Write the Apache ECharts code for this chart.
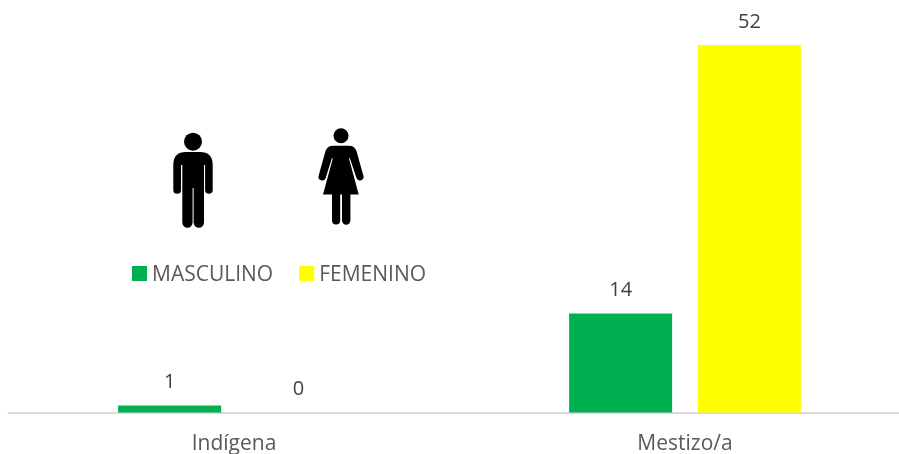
<!DOCTYPE html>
<html>
<head>
<meta charset="utf-8">
<style>
  html, body { margin: 0; padding: 0; background: #fff; }
  #chart { width: 899px; height: 454px; }
</style>
<script src="https://cdn.jsdelivr.net/npm/echarts@6/dist/echarts.min.js"></script>
</head>
<body>
<div id="chart"></div>
<script>
var categories = ["Indígena", "Mestizo/a"];
var masculino = [1, 14];
var femenino = [0, 52];

var manPath = "M173.3 165 Q173.3 152 186 152 L200 152 Q212.7 152 212.7 165 L212.7 190 A3.8 3.8 0 0 1 205.1 190 L205.1 165 L204 165 L204 222.5 A5 5 0 0 1 193.6 222.5 L193.6 188 L192.6 188 L192.6 222.5 A5 5 0 0 1 182.3 222.5 L182.3 165 L181 165 L181 190 A3.8 3.8 0 0 1 173.3 190 Z";
var womanPath = "M333 145.7 L349 145.7 Q354.5 145.7 356.5 151 L363.3 175.5 A3.6 3.6 0 0 1 356.5 178 L349.8 158 L349 158.5 L358.7 194.5 L350.4 194.5 L350.4 220.5 A4 4 0 0 1 342 220.5 L342 194.5 L340.2 194.5 L340.2 220.5 A4 4 0 0 1 332 220.5 L332 194.5 L323 194.5 L332.8 158.5 L332 158 L325.7 178 A3.6 3.6 0 0 1 318.7 175.5 L325.5 151 Q327.5 145.7 333 145.7 Z";
// square sits at the top of a 15x19 box, the text centre is a bit below the swatch centre
var legendIcon = "path://M0 0L15 0L15 15L0 15Z M0 19L0.01 19";

var chart = echarts.init(document.getElementById("chart"));

var barLabel = {
  show: true,
  position: "top",
  distance: 13,
  color: "#404040",
  fontFamily: "Open Sans",
  fontSize: 20
};

// the two pictograms, graphic has no path type so they go through a custom series
function drawFigures() {
  return {
    type: "group",
    children: [
      { type: "circle", shape: { cx: 193, cy: 141.7, r: 9 }, style: { fill: "#000" } },
      { type: "path", shape: { pathData: manPath }, style: { fill: "#000" } },
      { type: "circle", shape: { cx: 341, cy: 135.7, r: 7.5 }, style: { fill: "#000" } },
      { type: "path", shape: { pathData: womanPath }, style: { fill: "#000" } }
    ]
  };
}

var option = {
  animation: false,
  legend: {
    left: 132,
    top: 265,
    padding: 0,
    itemWidth: 15,
    itemHeight: 19,
    itemGap: 26,
    icon: legendIcon,
    textStyle: { color: "#595959", fontFamily: "Open Sans", fontSize: 21 },
    data: ["MASCULINO", "FEMENINO"]
  },
  grid: { left: 8.5, width: 902, top: 45, bottom: 41.5, outerBoundsMode: "none" },
  xAxis: {
    type: "category",
    data: categories,
    axisTick: { show: false },
    axisLine: { lineStyle: { color: "#d9d9d9", width: 2 } },
    axisLabel: { color: "#595959", fontFamily: "Open Sans", fontSize: 21, margin: 21 }
  },
  yAxis: { type: "value", min: 0, max: 52, show: false },
  series: [
    {
      name: "MASCULINO",
      type: "bar",
      data: masculino,
      barWidth: 103,
      barGap: "25%",
      itemStyle: { color: "#00b050" },
      label: barLabel
    },
    {
      name: "FEMENINO",
      type: "bar",
      data: femenino,
      barWidth: 103,
      itemStyle: { color: "#ffff00" },
      label: barLabel
    },
    {
      type: "custom",
      coordinateSystem: "none",
      silent: true,
      data: [0],
      renderItem: drawFigures
    }
  ]
};

chart.setOption(option);
</script>
</body>
</html>
